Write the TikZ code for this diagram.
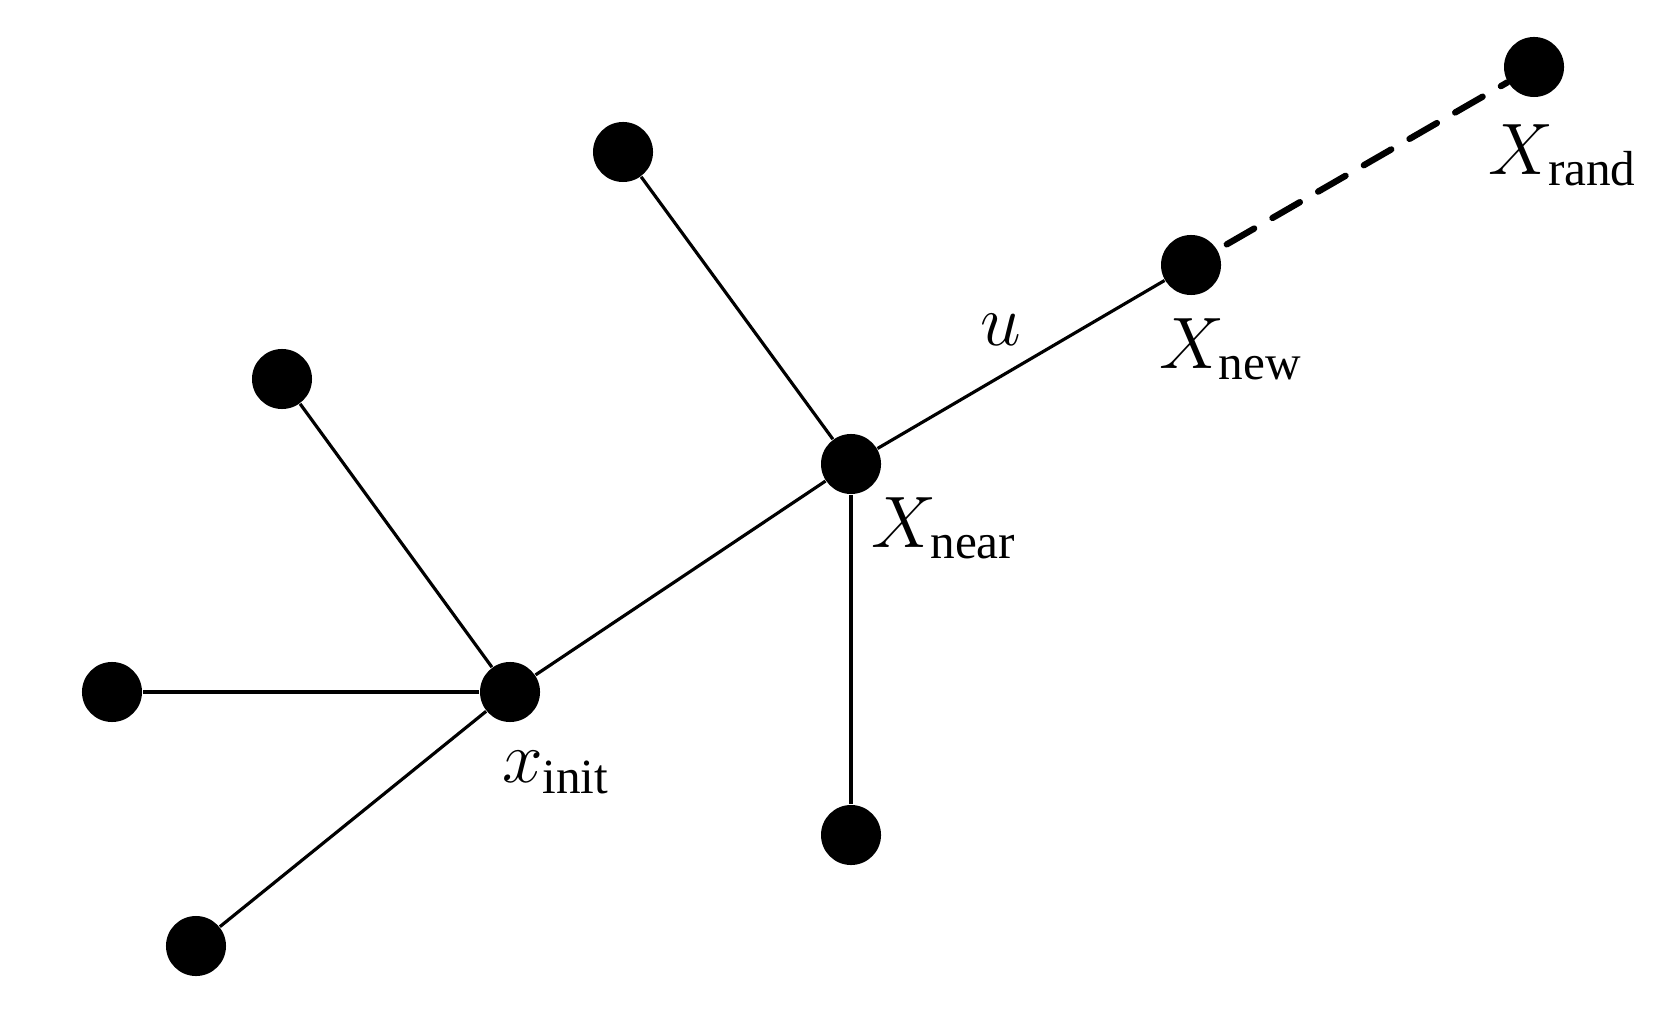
\documentclass[tikz,border=0pt]{standalone}
\usepackage{amsmath}
\usepackage{fontspec}
\setmainfont{Liberation Serif}
\usetikzlibrary{positioning}
\tikzset{
    vertex/.style={circle, fill, inner sep=0pt, minimum size=0.6cm}, % tree vertex
    edge/.style={line width=0.9pt}, % tree edge
    probe/.style={line width=1.8pt, dash pattern=on 9pt off 6pt, line cap=round, shorten <=3pt} % towards the sample
}
\begin{document}
\begin{tikzpicture}[x=0.01cm, y=-0.01cm, font=\fontsize{20}{24}\selectfont]
    \useasboundingbox (0,0) rectangle (1674,1010);

    \node[vertex] (init) at (510,692) {};
    \node[vertex] (near) at (851,464) {};
    \node[vertex] (new)  at (1191,265) {};
    \node[vertex] (rand) at (1534,67) {};
    \node[vertex] (top)  at (623,152) {};
    \node[vertex] (upl)  at (282,379) {};
    \node[vertex] (left) at (112,692) {};
    \node[vertex] (lowl) at (196,946) {};
    \node[vertex] (down) at (851,835) {};

    \draw[edge] (init) -- (near);
    \draw[edge] (near) -- (new);
    \foreach \leaf in {upl,left,lowl} {\draw[edge] (init) -- (\leaf);}
    \foreach \leaf in {top,down} {\draw[edge] (near) -- (\leaf);}
    \draw[probe] (new) -- (rand);

    \node (linit) at (556,773) {$x_{\text{init}}$};
    \node (lnear) at (944,528) {$X_{\text{near}}$};
    \node (lnew)  at (1231,349) {$X_{\text{new}}$};
    \node (lrand) at (1563,155) {$X_{\text{rand}}$};
    \node (lu)    at (1001,330) {$u$};
\end{tikzpicture}
\end{document}
